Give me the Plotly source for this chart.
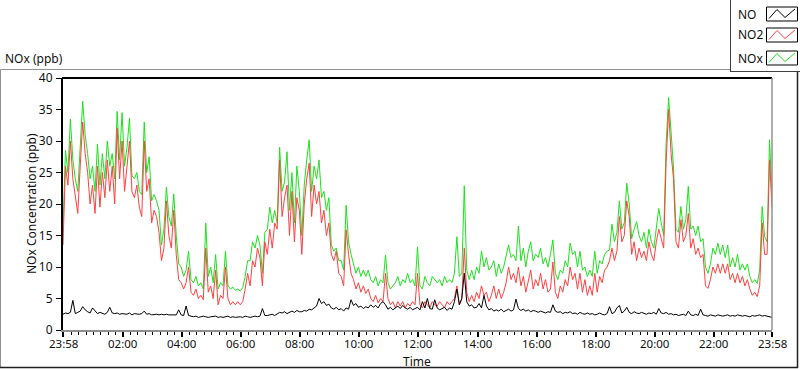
import pandas as pd
import plotly.graph_objects as go

# ---------------- data (5-minute samples, 23:58 -> 23:58) ----------------
start_time = "2024-01-01 23:58"
n_points = 289

no_vals = [
    2.5, 2.7, 2.6, 2.8, 4.7, 2.6, 2.8, 3.0, 3.7, 3.2,
    2.9, 2.7, 3.5, 3.0, 2.6, 2.8, 2.7, 2.5, 2.8, 3.6,
    2.7, 2.6, 2.7, 2.5, 2.6, 2.6, 2.5, 2.7, 2.4, 2.6,
    2.5, 2.5, 2.6, 3.0, 2.5, 2.6, 2.4, 2.5, 2.5, 2.4,
    2.5, 2.4, 2.5, 2.4, 2.4, 2.5, 2.4, 3.2, 2.4, 2.3,
    3.8, 2.3, 2.2, 2.1, 2.2, 2.0, 2.1, 2.2, 2.1, 2.0,
    2.1, 2.1, 2.2, 2.0, 2.1, 2.0, 2.1, 2.2, 2.0, 2.1,
    2.0, 2.1, 2.1, 2.0, 2.2, 2.1, 2.0, 2.1, 2.2, 2.1,
    2.2, 3.4, 2.3, 2.3, 2.4, 2.5, 2.3, 2.6, 2.8, 2.7,
    2.9, 2.6, 2.8, 3.0, 2.8, 3.1, 2.9, 2.9, 3.1, 3.0,
    3.3, 3.2, 3.5, 3.8, 5.0, 4.2, 4.5, 3.9, 4.1, 3.5,
    3.3, 3.6, 3.2, 3.4, 3.0, 3.5, 3.3, 4.8, 3.9, 4.2,
    3.6, 3.8, 3.4, 3.7, 3.5, 4.0, 3.6, 3.9, 3.5, 4.2,
    4.5, 4.0, 3.3, 3.6, 3.2, 3.5, 3.8, 3.4, 3.9, 3.5,
    3.3, 3.6, 3.2, 3.4, 3.6, 3.2, 4.5, 3.5, 5.0, 3.4,
    3.3, 4.8, 3.5, 3.2, 3.4, 3.6, 3.1, 3.5, 3.3, 4.5,
    6.5, 4.0, 5.0, 9.0, 4.5, 3.8, 4.0, 3.5, 3.6, 4.2,
    3.5, 5.5, 3.8, 3.2, 3.4, 3.0, 3.2, 3.0, 3.3, 2.9,
    3.1, 3.3, 3.0, 3.2, 4.9, 3.4, 3.1, 3.3, 3.0, 3.2,
    2.9, 3.1, 3.0, 2.8, 3.0, 2.9, 2.7, 2.9, 2.8, 4.0,
    3.0, 2.8, 2.9, 2.6, 2.8, 2.7, 2.9, 2.6, 2.7, 2.5,
    2.8, 2.6, 2.5, 2.7, 2.5, 2.6, 2.4, 2.5, 2.7, 2.5,
    2.4, 2.6, 3.7, 2.6, 2.8, 3.5, 3.9, 2.7, 3.0, 3.6,
    2.8, 2.6, 2.9, 2.7, 2.6, 2.8, 2.6, 2.5, 2.7, 2.6,
    2.8, 2.5, 3.4, 2.7, 2.6, 2.8, 2.5, 2.6, 2.4, 2.5,
    2.3, 2.4, 2.5, 2.3, 3.0, 2.4, 2.3, 2.5, 2.3, 3.3,
    2.4, 2.3, 2.2, 2.4, 2.3, 2.2, 2.4, 2.3, 2.2, 2.3,
    2.4, 2.2, 2.3, 2.2, 2.4, 2.3, 2.2, 2.3, 2.2, 2.1,
    2.3, 2.2, 2.3, 2.4, 2.2, 2.3, 2.2, 2.1, 2.0,
]

no2_vals = [
    13.5, 26, 23, 30, 24, 21.5, 18.5, 26, 33, 28,
    25, 20, 23, 18.5, 26, 19.5, 25, 21, 27, 22,
    26, 20, 32, 24, 30, 22, 26, 30, 22, 21,
    23, 19.5, 18, 30, 22, 24, 17, 19, 18, 15.5,
    11, 13, 20.5, 15, 13, 19, 12, 8, 7.5, 6.5,
    7.5, 10, 6, 5.5, 6.5, 5, 5.5, 4.8, 13, 6,
    7, 5, 9.5, 4, 5.5, 5, 10, 5, 4, 4.5,
    4, 4.5, 4, 4.5, 6.5, 9, 7, 11, 10, 13,
    11.5, 7, 14, 12, 16, 13, 17, 16, 27, 18,
    21, 23, 15, 22, 14, 21, 19, 12, 20, 24,
    26.5, 18, 23, 20, 22, 17, 19, 15, 17, 12,
    11, 12.5, 9, 8.5, 7, 15.9, 12, 9, 8, 6.5,
    7.5, 6, 7, 5.8, 6.5, 5, 4.5, 5.5, 4.3, 5,
    4.5, 9, 5, 4, 4.5, 3.5, 4.5, 3.8, 4.5, 3.5,
    4.2, 3.8, 4.5, 4, 9, 4, 3.5, 4.5, 4, 3.5,
    4.5, 4, 3.8, 4.5, 4, 3.5, 4.5, 4, 4.5, 5,
    7, 4, 5, 13, 6, 4.5, 5.5, 4.5, 6, 5,
    7, 5.5, 6, 4.5, 5.5, 7, 5, 6.5, 5, 6,
    7.5, 10, 8, 9, 7.5, 10, 7, 8.5, 6, 8,
    9.5, 6.5, 8, 7, 9, 6.5, 8, 6, 6.5, 10.8,
    6, 5, 7, 6, 8, 7, 10, 8, 9, 6.5,
    9, 6, 8, 5.5, 7, 5.5, 9, 6, 8.5, 7.5,
    9.5, 10, 11, 13, 11, 12.5, 18, 14, 15, 20.5,
    18, 12, 14, 11, 13, 11.5, 12.5, 11, 14, 12,
    11, 14, 16, 14.5, 13, 26.7, 35, 28, 24, 14,
    13, 17.5, 14, 15, 18.5, 13, 14.5, 12, 13, 11.5,
    12, 7, 6.6, 8, 10, 9, 10.5, 9, 10.5, 9,
    10.5, 8, 9, 7.5, 9, 7.5, 8.5, 7, 8, 6.5,
    5.5, 6, 5.3, 7, 17, 12, 12, 27, 19.5,
]

nox_vals = [
    16, 28.5, 25, 33.5, 27, 24, 22, 29, 36.3, 31,
    28, 24, 26, 22, 29.5, 23, 28, 24, 30, 26,
    28, 24, 34.7, 27, 34.5, 26, 29, 33.6, 24.5, 24,
    25, 22, 21.5, 33, 25, 27.5, 20.5, 21.5, 20.5, 19,
    13.5, 16, 22.7, 18, 16.5, 21.6, 15, 10.5, 10, 8.5,
    9.5, 12.5, 8, 7.5, 8.5, 7, 7.5, 6.5, 17, 8.5,
    10, 7.5, 12, 6.5, 7.5, 7, 12.5, 7, 6.5, 6.8,
    6.3, 6.5, 6.2, 6.7, 8.5, 11, 11, 14, 13, 15,
    13.5, 9, 15.5, 16, 19.5, 17, 19, 17, 29, 22,
    23.5, 28.3, 19, 25, 17, 26, 22, 15, 23, 27,
    30.2, 22, 26, 24, 27, 21, 22, 19, 21, 13.5,
    12.5, 13, 11, 11, 9.5, 19.8, 14, 12, 10.5, 9,
    10, 8.5, 9.5, 8.5, 9.5, 8, 7.5, 8.5, 7, 8,
    7.5, 11.9, 7.5, 6.5, 7, 7.5, 8.5, 7, 8, 7.5,
    9, 7.5, 8, 7, 13.2, 7, 6.5, 8.5, 7.5, 7,
    8.5, 8, 7.5, 8, 7, 8.5, 7.5, 8, 7.5, 9,
    14.8, 8.5, 9, 22.9, 9.5, 8, 9.5, 8, 10, 9,
    12.5, 10, 11.5, 9.5, 10, 11, 8.5, 10.5, 9, 10,
    12, 13.5, 11.5, 12, 11, 16.5, 11, 13, 10, 12.5,
    14, 11, 12, 11.5, 13, 10.5, 11.5, 10, 12, 14.3,
    9, 8, 9.5, 9, 11, 10, 13.8, 12, 12.5, 10,
    12.5, 9.5, 10, 8.5, 9.5, 8.5, 12.5, 9, 11, 10.5,
    12, 12.5, 12.7, 16.8, 14, 15.5, 20.5, 16, 17, 23.3,
    20, 14.5, 16, 17.2, 15, 14, 15.5, 13, 16, 14,
    13, 16.5, 19.3, 17, 15, 29.6, 36.9, 31.5, 25.7, 16,
    15.5, 19.6, 16, 17.5, 22.8, 16, 16.5, 15, 16.5, 14,
    14.5, 10, 9, 10.5, 13, 12, 13.8, 12, 13.5, 11.5,
    13.5, 10, 11.5, 10, 12, 9.5, 10.5, 9.5, 10.5, 8.5,
    7.5, 8, 7.4, 9.5, 19.6, 14.8, 14, 30.2, 21,
]

series_names = ["NO", "NO2", "NOx"]
y_ticks = [0, 5, 10, 15, 20, 25, 30, 35, 40]
x_tick_labels = ["23:58", "02:00", "04:00", "06:00", "08:00", "10:00", "12:00",
                 "14:00", "16:00", "18:00", "20:00", "22:00", "23:58"]
x_tick_values = ["2024-01-01 23:58", "2024-01-02 02:00", "2024-01-02 04:00",
                 "2024-01-02 06:00", "2024-01-02 08:00", "2024-01-02 10:00",
                 "2024-01-02 12:00", "2024-01-02 14:00", "2024-01-02 16:00",
                 "2024-01-02 18:00", "2024-01-02 20:00", "2024-01-02 22:00",
                 "2024-01-02 23:58"]

times = pd.date_range(start_time, periods=n_points, freq="5min")
minor_ticks = [t.strftime("%Y-%m-%d %H:%M") for t in
               pd.date_range("2024-01-02 00:00", "2024-01-02 23:45", freq="15min")]

# ---------------- styles ----------------
C_NO, C_NO2, C_NOX = "#000000", "#ff4040", "#1fe01f"
FONT = "Noto Sans"
TXT = "#101010"

L, R, T, B = 63, 772, 78, 330   # plot area in pixels
W, H = 800, 369


def px(x):
    return (x - L) / (R - L)


def py(y):
    return (B - y) / (B - T)


fig = go.Figure()
fig.add_trace(go.Scatter(x=times, y=nox_vals, mode="lines", name=series_names[2],
                         line=dict(color=C_NOX, width=1)))
fig.add_trace(go.Scatter(x=times, y=no2_vals, mode="lines", name=series_names[1],
                         line=dict(color=C_NO2, width=1)))
fig.add_trace(go.Scatter(x=times, y=no_vals, mode="lines", name=series_names[0],
                         line=dict(color=C_NO, width=1)))

shapes = []
# outer panel frame
shapes.append(dict(type="line", xref="paper", yref="paper", x0=px(0.5), x1=px(730), y0=py(69.5), y1=py(69.5),
                   line=dict(color="#909090", width=1)))
shapes.append(dict(type="line", xref="paper", yref="paper", x0=px(0.5), x1=px(0.5), y0=py(69.5), y1=py(368),
                   line=dict(color="#909090", width=1)))
shapes.append(dict(type="line", xref="paper", yref="paper", x0=px(0), x1=px(798), y0=py(367.5), y1=py(367.5),
                   line=dict(color="#202020", width=1.5)))
shapes.append(dict(type="line", xref="paper", yref="paper", x0=px(797.5), x1=px(797.5), y0=py(72), y1=py(368),
                   line=dict(color="#202020", width=1.5)))
# plot frame: top black, right gray
shapes.append(dict(type="line", xref="paper", yref="paper", x0=px(L - 1), x1=px(R), y0=py(T), y1=py(T),
                   line=dict(color="#000000", width=2)))
shapes.append(dict(type="line", xref="paper", yref="paper", x0=px(R), x1=px(R), y0=py(T), y1=py(B),
                   line=dict(color="#909090", width=1.5)))
# legend box
shapes.append(dict(type="line", xref="paper", yref="paper", x0=px(730.5), x1=px(730.5), y0=py(0), y1=py(72),
                   line=dict(color="#404040", width=1)))
shapes.append(dict(type="line", xref="paper", yref="paper", x0=px(730), x1=px(800), y0=py(71.5), y1=py(71.5),
                   line=dict(color="#404040", width=1)))

annotations = []
legend_rows = [(series_names[0], C_NO, 14), (series_names[1], C_NO2, 35), (series_names[2], C_NOX, 58)]
for name, col, yc in legend_rows:
    annotations.append(dict(text=name, xref="paper", yref="paper", x=px(736), y=py(yc),
                            xanchor="left", yanchor="middle", showarrow=False,
                            font=dict(family=FONT, size=12, color=TXT)))
    shapes.append(dict(type="rect", xref="paper", yref="paper", x0=px(766.5), x1=px(797.5),
                       y0=py(yc - 7), y1=py(yc + 7), line=dict(color="#000000", width=1),
                       fillcolor="white"))
    pts = [(769, yc + 4.5), (777, yc - 4.5), (785, yc + 3.5), (795, yc - 5)]
    path = "M " + " L ".join(f"{px(a):.5f},{py(b):.5f}" for a, b in pts)
    shapes.append(dict(type="path", xref="paper", yref="paper", path=path,
                       line=dict(color=col, width=1)))

# x tick labels as annotations (exact vertical placement)
for tv, tt in zip(x_tick_values, x_tick_labels):
    annotations.append(dict(text=tt, xref="x", yref="paper", x=tv, y=py(343.5),
                            xanchor="center", yanchor="middle", showarrow=False,
                            font=dict(family=FONT, size=11.5, color=TXT)))

annotations.append(dict(text="NOx (ppb)", xref="paper", yref="paper", x=px(3), y=py(58),
                        xanchor="left", yanchor="middle", showarrow=False,
                        font=dict(family=FONT, size=12, color=TXT)))
annotations.append(dict(text="NOx Concentration (ppb)", xref="paper", yref="paper", x=px(31), y=py(204),
                        xanchor="center", yanchor="middle", textangle=-90, showarrow=False,
                        font=dict(family=FONT, size=12, color=TXT)))
annotations.append(dict(text="Time", xref="paper", yref="paper", x=px(417), y=py(361.5),
                        xanchor="center", yanchor="middle", showarrow=False,
                        font=dict(family=FONT, size=12, color=TXT)))

fig.update_layout(
    width=W, height=H,
    margin=dict(l=L, r=W - R, t=T, b=H - B, pad=0, autoexpand=False),
    paper_bgcolor="white", plot_bgcolor="white",
    showlegend=False,
    shapes=shapes, annotations=annotations,
    xaxis=dict(
        type="date", range=[x_tick_values[0], x_tick_values[-1]],
        tickmode="array", tickvals=x_tick_values, ticktext=x_tick_labels,
        showticklabels=False,
        ticks="outside", ticklen=5, tickwidth=2, tickcolor="#000000",
        showgrid=False, zeroline=False, automargin=False,
        showline=True, linecolor="#909090", linewidth=2,
        minor=dict(tickmode="array", tickvals=minor_ticks, ticks="outside",
                   ticklen=3, tickwidth=1, tickcolor="#000000", showgrid=False),
    ),
    yaxis=dict(
        range=[0, 40], tickmode="array", tickvals=y_ticks,
        ticks="outside", ticklen=5, tickwidth=1, tickcolor="#000000",
        showgrid=False, zeroline=False, automargin=False,
        showline=True, linecolor="#000000", linewidth=2,
        tickfont=dict(family=FONT, size=12, color=TXT),
        ticklabelstandoff=1,
    ),
)

fig.write_html(
    "out.html",
    config={"displayModeBar": False},
    post_script="document.body.style.margin='0px';document.body.style.padding='0px';"
                "document.body.style.overflow='hidden';",
)
